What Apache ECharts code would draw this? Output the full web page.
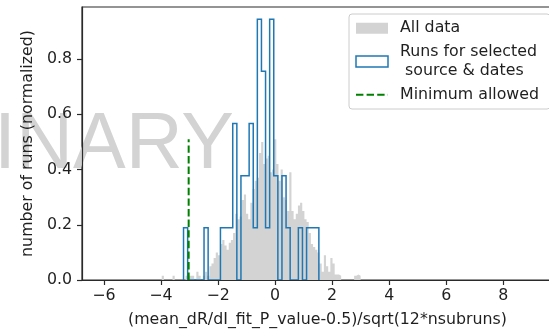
<!DOCTYPE html>
<html><head><meta charset="utf-8">
<script src="https://cdn.jsdelivr.net/npm/echarts@6/dist/echarts.min.js"></script>
<style>html,body{margin:0;padding:0;background:#fff}#c{width:549px;height:329px}</style>
</head><body><div id="c"></div>
<script>
// ---- data ----
const xTicks = [-6, -4, -2, 0, 2, 4, 6, 8];
const yTicks = [0, 0.2, 0.4, 0.6, 0.8];
const xName = '(mean_dR/dI_fit_P_value-0.5)/sqrt(12*nsubruns)';
const yName = 'number of runs (normalized)';
const seriesNames = ['All data', 'Runs for selected\n source & dates', 'Minimum allowed'];
const watermark = 'PRELIMINARY';

// "All data" histogram (normalized), uniform bins starting at grayStart
const grayStart = -4.05;
const grayWidth = 0.0758;
const grayHeights = [
  0, 0.015, 0, 0, 0, 0, 0.015, 0, 0, 0,
  0, 0, 0.015, 0.015, 0.015, 0.015, 0, 0.03, 0.015, 0,
  0.015, 0.03, 0.015, 0.05, 0.06, 0.08, 0.10, 0.09, 0.13, 0.145,
  0.125, 0.11, 0.135, 0.145, 0.17, 0.24, 0.22, 0.23, 0.29, 0.31,
  0.24, 0.22, 0.28, 0.33, 0.36, 0.37, 0.46, 0.50, 0.42, 0.44,
  0.45, 0.39, 0.40, 0.51, 0.42, 0.36, 0.40, 0.30, 0.29, 0.25,
  0.39, 0.25, 0.22, 0.24, 0.27, 0.28, 0.25, 0.22, 0.21, 0.17,
  0.13, 0.12, 0.11, 0.10, 0.06, 0.03, 0.09, 0.05, 0.03, 0.08,
  0.06, 0.02, 0.02, 0.015, 0, 0, 0, 0, 0, 0,
  0.015, 0.02, 0.015
];

// "Runs for selected source & dates" histogram (normalized)
const blueStart = -3.21;
const blueWidth = 0.1438;
const blueHeights = [
  0.189, 0, 0, 0, 0, 0.189, 0, 0, 0, 0.189,
  0.189, 0.189, 0.567, 0, 0.378, 0.378, 0.567, 0.189, 0.945, 0.756,
  0.189, 0.945, 0.378, 0, 0.378, 0.189, 0, 0, 0.189, 0,
  0.189, 0.189, 0.189
];

// Minimum allowed marker
const minAllowedX = -3.03;
const minAllowedTop = 0.51;

// ---- build library inputs (step outlines from bin edges) ----
function stepPoints(start, width, heights) {
  const pts = [[start, 0]];
  heights.forEach((h, i) => {
    const x0 = start + i * width, x1 = x0 + width;
    pts.push([x0, h], [x1, h]);
  });
  pts.push([start + heights.length * width, 0]);
  return pts;
}
const grayPts = stepPoints(grayStart, grayWidth, grayHeights);
const bluePts = stepPoints(blueStart, blueWidth, blueHeights);

const FONT = 'DejaVu Sans';
const FS = 15.8;
const TXT = '#1f1f1f';
const AX = '#2a2a2a';

const chart = echarts.init(document.getElementById('c'), null, {renderer: 'canvas'});
chart.setOption({
  animation: false,
  backgroundColor: '#ffffff',
  graphic: [{
    type: 'text', z: 1, silent: true,
    x: 234, y: 146,
    style: {
      text: watermark, fill: '#d3d3d3',
      font: '79px "Liberation Sans"',
      align: 'right', verticalAlign: 'middle',
      textAlign: 'right', textVerticalAlign: 'middle'
    }
  }],
  grid: {left: 82, top: 7, right: -4, bottom: 49, containLabel: false, outerBoundsMode: 'none',
    show: true, borderColor: AX, borderWidth: 1.2, backgroundColor: 'transparent'},
  legend: {
    orient: 'vertical', left: 349, top: 14,
    padding: [4.5, 11, 4.5, 6], itemGap: 4, itemWidth: 32, itemHeight: 11,
    backgroundColor: 'rgba(255,255,255,0.85)', borderColor: '#cccccc', borderWidth: 1, borderRadius: 3,
    textStyle: {fontFamily: FONT, fontSize: FS, color: TXT, lineHeight: 19.5, padding: [0, 0, 0, 7]},
    data: [
      {name: seriesNames[0], icon: 'rect', itemStyle: {color: '#d3d3d3', borderWidth: 0, opacity: 1}},
      {name: seriesNames[1], icon: 'rect', itemStyle: {color: '#ffffff', borderColor: '#1f77b4', borderWidth: 1.5, opacity: 1}},
      {name: seriesNames[2], itemStyle: {opacity: 0}, lineStyle: {width: 2}}
    ]
  },
  xAxis: {
    type: 'value', min: -6.77, max: 9.745, z: 5,
    name: xName, nameLocation: 'middle', nameGap: 32,
    nameTextStyle: {fontFamily: FONT, fontSize: FS, color: TXT},
    axisLine: {show: true, onZero: false, lineStyle: {color: AX, width: 1.2}},
    axisTick: {show: true, length: 5, lineStyle: {color: AX, width: 1.2}, customValues: xTicks},
    axisLabel: {fontFamily: FONT, fontSize: FS, color: TXT, margin: 8, customValues: xTicks,
      formatter: v => (v < 0 ? '\u2212' : '') + Math.abs(v)},
    splitLine: {show: false}
  },
  yAxis: {
    type: 'value', min: 0, max: 0.989, z: 5,
    name: yName, nameLocation: 'middle', nameGap: 44, nameRotate: 90,
    nameTextStyle: {fontFamily: FONT, fontSize: FS, color: TXT},
    axisLine: {show: true, onZero: false, lineStyle: {color: AX, width: 1.2}},
    axisTick: {show: true, length: 5, lineStyle: {color: AX, width: 1.2}, customValues: yTicks},
    axisLabel: {fontFamily: FONT, fontSize: FS, color: TXT, margin: 10, customValues: yTicks,
      formatter: v => v.toFixed(1)},
    splitLine: {show: false}
  },
  series: [
    {
      name: seriesNames[0], type: 'line', z: 2, symbol: 'none', showSymbol: false,
      data: grayPts,
      lineStyle: {width: 0, color: '#d3d3d3'},
      areaStyle: {color: '#d3d3d3', opacity: 1, origin: 0},
      itemStyle: {color: '#d3d3d3'}
    },
    {
      name: seriesNames[1], type: 'line', z: 3, symbol: 'none', showSymbol: false,
      data: bluePts,
      lineStyle: {color: '#1f77b4', width: 1.5, join: 'miter'},
      itemStyle: {color: '#1f77b4'}
    },
    {
      name: seriesNames[2], type: 'line', z: 4, symbol: 'none', showSymbol: false,
      data: [[minAllowedX, 0], [minAllowedX, minAllowedTop]],
      lineStyle: {color: '#008000', width: 2, type: [7.4, 3.2]},
      itemStyle: {color: '#008000', opacity: 0}
    }
  ]
});
</script></body></html>
